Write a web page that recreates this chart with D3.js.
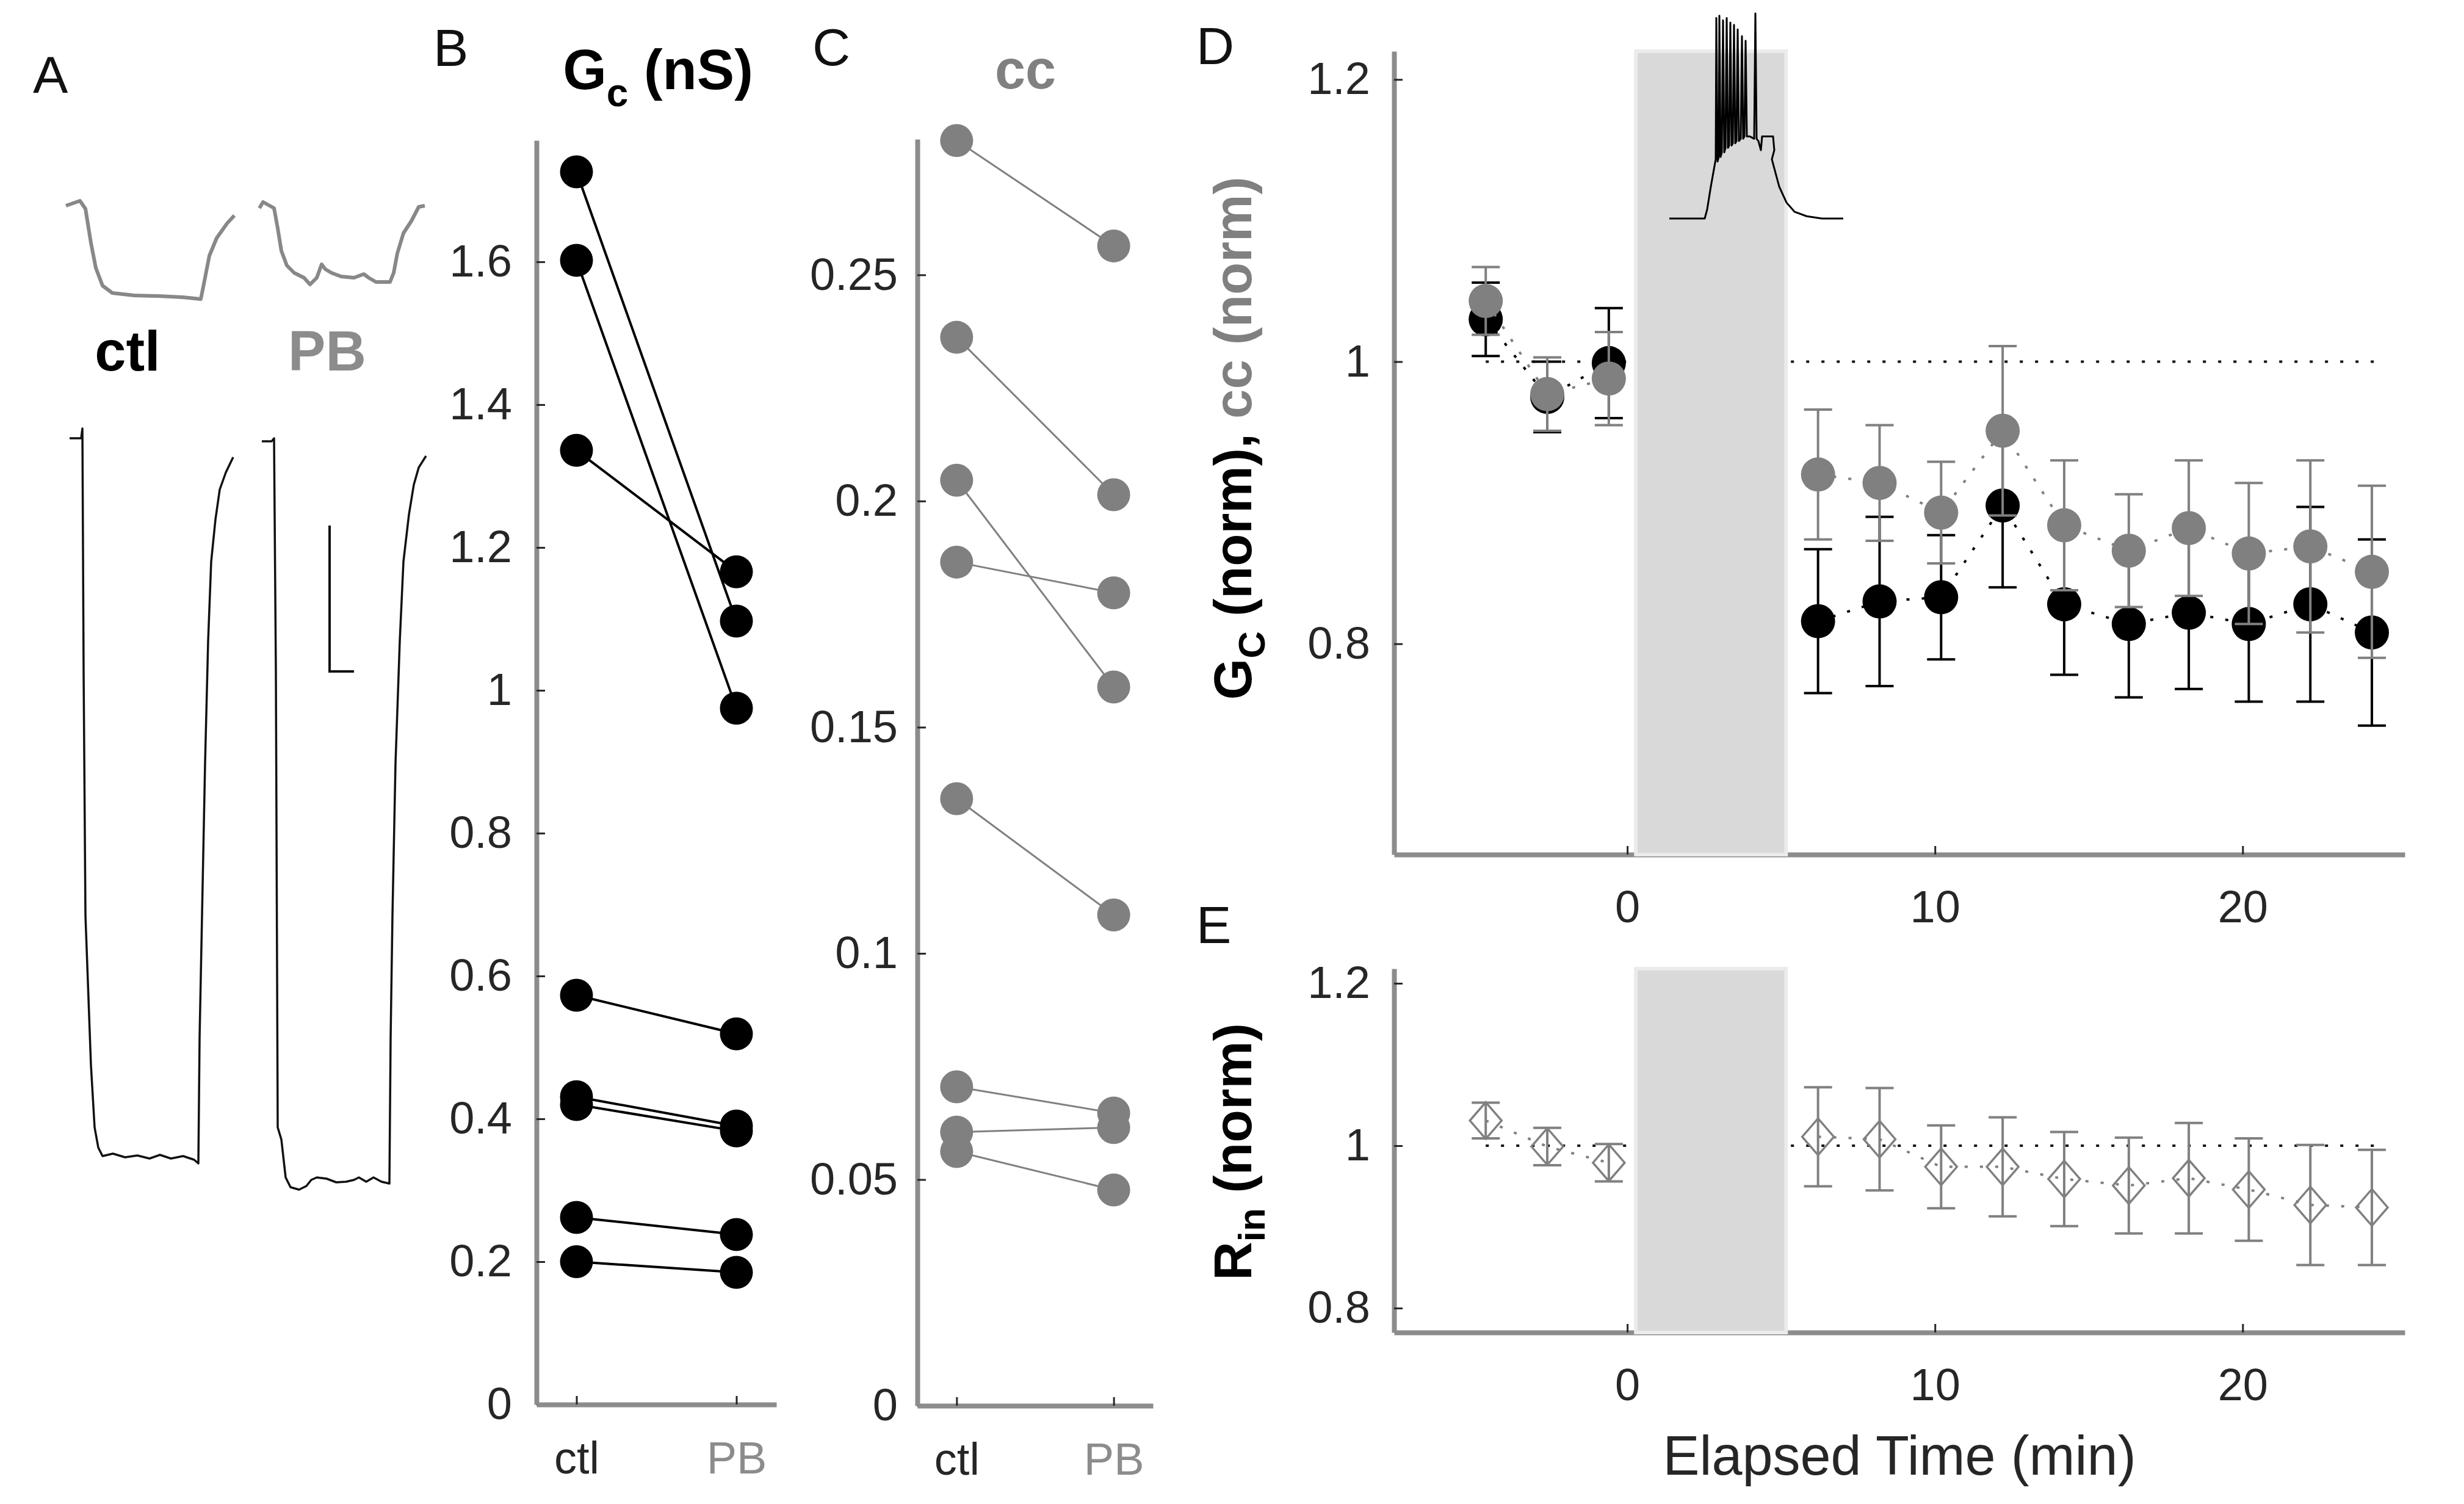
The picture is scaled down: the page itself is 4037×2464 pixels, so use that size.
<!DOCTYPE html>
<html>
<head>
<meta charset="utf-8">
<script src="https://cdn.jsdelivr.net/npm/d3@7"></script>
<style>
  body { margin: 0; background: #fff; }
  text { font-family: "Liberation Sans", Arial, sans-serif; }
</style>
</head>
<body>
<script>
const WIDTH = 4037;
const HEIGHT = 2464;

const INK = "#262626";
const GRAY = "#808080";
const AXIS = "#8c8c8c";
const SHADE = "#d9d9d9";

// ---------- data ----------
const conditions = ["ctl", "PB"];

// B: coupling conductance (nS), paired cells
const gcCtl = [1.726, 1.602, 1.336, 0.573, 0.431, 0.420, 0.262, 0.200];
const gcPB  = [1.097, 0.975, 1.166, 0.519, 0.390, 0.383, 0.238, 0.185];

// C: coupling coefficient, paired cells
const ccCtl = [0.2797, 0.2362, 0.2046, 0.1865, 0.1342, 0.0705, 0.0605, 0.0562];
const ccPB  = [0.2564, 0.2014, 0.1589, 0.1797, 0.1085, 0.0647, 0.0615, 0.0477];

// D/E: time course (min)
const timePre  = [-4.6, -2.6, -0.6];
const timePost = [6.2, 8.2, 10.2, 12.2, 14.2, 16.3, 18.25, 20.2, 22.2, 24.2];
const stimWindow = [0.28, 5.16];
const refLineSpan = [-4.6, 24.3];

const gcPre     = [1.030, 0.975, 0.999];
const gcPreErr  = [0.026, 0.025, 0.039];
const gcPost    = [0.816, 0.830, 0.833, 0.898, 0.828, 0.814, 0.822, 0.814, 0.828, 0.808];
const gcPostErr = [0.051, 0.060, 0.044, 0.058, 0.050, 0.052, 0.054, 0.055, 0.069, 0.066];

const ccPre     = [1.043, 0.977, 0.988];
const ccPreErr  = [0.024, 0.026, 0.033];
const ccPost    = [0.920, 0.914, 0.893, 0.951, 0.884, 0.866, 0.882, 0.864, 0.869, 0.851];
const ccPostErr = [0.046, 0.041, 0.036, 0.060, 0.046, 0.040, 0.048, 0.050, 0.061, 0.061];

const rinPre     = [1.031, 0.999, 0.979];
const rinPreErr  = [0.022, 0.023, 0.023];
const rinPost    = [1.011, 1.008, 0.974, 0.974, 0.959, 0.951, 0.960, 0.946, 0.927, 0.924];
const rinPostErr = [0.061, 0.063, 0.051, 0.061, 0.058, 0.059, 0.068, 0.063, 0.074, 0.071];

// A: example traces, [sample, a.u.]
const smallCtl = [[18,1663],[41,1671],[50,1658],[59,1602],[67,1561],[78,1532],[94,1520],[130,1516],
  [170,1515],[210,1513],[239,1510],[245,1540],[253,1581],[265,1610],[282,1634],[294,1647]];
const smallPB = [[335,1659],[341,1669],[359,1659],[365,1626],[371,1589],[380,1565],[392,1553],[408,1545],
  [418,1534],[429,1545],[437,1567],[443,1559],[453,1553],[469,1547],[490,1545],[506,1551],[514,1545],
  [526,1538],[549,1538],[555,1553],[561,1585],[571,1618],[584,1638],[596,1661],[606,1663]];
const bigCtl = [[24,1282],[43,1282],[45,1298],[47,900],[50,500],[59,255],[65,153],[71,120],[78,106],
  [95,110],[115,104],[135,107],[155,102],[172,108],[190,102],[210,106],[228,100],[235,94],[237,300],
  [241,500],[246,750],[251,950],[256,1080],[263,1149],[270,1198],[280,1226],[292,1251]];
const bigPB = [[339,1277],[355,1277],[359,1282],[362,900],[365,153],[371,133],[378,71],[386,55],[400,51],
  [412,57],[420,67],[429,71],[445,69],[461,63],[477,64],[490,67],[498,71],[510,64],[522,71],[535,64],
  [548,61],[550,300],[553,500],[558,750],[565,950],[571,1080],[580,1157],[588,1206],[596,1234],[608,1253]];
const scaleBar = [[450,1139],[450,900],[490,900]];

// D inset: stimulation response, [ms, mV]
const insetTrace = [[0,-70],[58,-70],[62,-66],[68,-56],[74,-47],[76,-44],[77,18],[79,-45],[81,-43],[82,19],
  [84,-43],[86,-41],[88,17],[90,-41],[92,-39],[94,18],[96,-39],[98,-38],[100,16],[102,-38],[104,-37],
  [106,15],[108,-37],[110,-36],[112,13],[114,-36],[117,-35],[119,10],[121,-35],[123,-34],[125,8],
  [127,-34],[132,-34],[139,-35],[141,20],[143,-35],[146,-36],[150,-40],[152,-34],[170,-34],[172,-40],
  [168,-44],[172,-48],[180,-56],[192,-63],[205,-67],[225,-69],[250,-70],[285,-70]];

// ---------- svg ----------
const svg = d3.select("body")
    .append("svg")
    .attr("width", WIDTH)
    .attr("height", HEIGHT)
    .attr("viewBox", `0 0 ${WIDTH} ${HEIGHT}`);

svg.append("rect").attr("width", WIDTH).attr("height", HEIGHT).attr("fill", "#fff");

const fmt = (d) => String(+d.toFixed(3));

function styleAxis(g, padding) {
    g.attr("font-size", 74).attr("font-family", '"Liberation Sans", Arial, sans-serif');
    g.select(".domain").attr("stroke", AXIS).attr("stroke-width", 8);
    g.selectAll(".tick line").attr("stroke", INK).attr("stroke-width", 3);
    g.selectAll(".tick text").attr("fill", INK);
}

function panelLetter(letter, x, y) {
    svg.append("text")
        .attr("x", x).attr("y", y)
        .attr("font-size", 86)
        .attr("fill", "#111")
        .text(letter);
}

// ---------- A ----------
const xA = d3.scaleLinear().domain([0, 640]).range([90, 730]);
const yA = d3.scaleLinear().domain([0, 1720]).range([2000, 280]);
const lineA = d3.line().x((d) => xA(d[0])).y((d) => yA(d[1]));

panelLetter("A", 54, 152);

[smallCtl, smallPB].forEach((tr) => {
    svg.append("path").attr("d", lineA(tr))
        .attr("fill", "none").attr("stroke", "#888").attr("stroke-width", 6)
        .attr("stroke-linejoin", "round");
});
[bigCtl, bigPB].forEach((tr) => {
    svg.append("path").attr("d", lineA(tr))
        .attr("fill", "none").attr("stroke", "#111").attr("stroke-width", 3.5)
        .attr("stroke-linejoin", "round");
});
svg.append("path").attr("d", lineA(scaleBar))
    .attr("fill", "none").attr("stroke", "#111").attr("stroke-width", 4);

svg.append("text").attr("x", 209).attr("y", 607).attr("text-anchor", "middle")
    .attr("font-size", 92).attr("font-weight", "bold").attr("fill", "#000").text("ctl");
svg.append("text").attr("x", 536).attr("y", 607).attr("text-anchor", "middle")
    .attr("font-size", 92).attr("font-weight", "bold").attr("fill", "#8c8c8c").text("PB");

// ---------- paired panels B, C ----------
function pairedPanel(opts) {
    const x = d3.scaleLinear().domain([0.75, 2.25]).range(opts.xRange);
    const y = d3.scaleLinear().domain(opts.yDomain).range(opts.yRange);
    const g = svg.append("g");

    const yAxis = g.append("g")
        .attr("transform", `translate(${opts.xRange[0]},0)`)
        .call(d3.axisLeft(y).tickValues(opts.ticks).tickFormat(fmt)
            .tickSizeInner(-14).tickSizeOuter(0).tickPadding(opts.pad));
    styleAxis(yAxis);

    const xAxis = g.append("g")
        .attr("transform", `translate(0,${opts.yRange[0]})`)
        .call(d3.axisBottom(x).tickValues([1, 2]).tickFormat((d) => conditions[d - 1])
            .tickSizeInner(-14).tickSizeOuter(0).tickPadding(60));
    styleAxis(xAxis);
    xAxis.selectAll(".tick text").attr("fill", (d) => d === 1 ? INK : "#8c8c8c");

    const pairs = opts.ctl.map((v, i) => [[1, v], [2, opts.pb[i]]]);
    const line = d3.line().x((d) => x(d[0])).y((d) => y(d[1]));

    g.selectAll("path.pair").data(pairs).join("path")
        .attr("class", "pair")
        .attr("d", line)
        .attr("fill", "none")
        .attr("stroke", opts.color)
        .attr("stroke-width", opts.lineWidth);

    g.selectAll("circle.pt").data(pairs.flat()).join("circle")
        .attr("class", "pt")
        .attr("cx", (d) => x(d[0]))
        .attr("cy", (d) => y(d[1]))
        .attr("r", 27)
        .attr("fill", opts.color);
}

panelLetter("B", 710, 108);
pairedPanel({
    xRange: [879, 1272], yRange: [2301, 230], yDomain: [0, 1.77],
    ticks: [0, 0.2, 0.4, 0.6, 0.8, 1, 1.2, 1.4, 1.6], pad: 40,
    ctl: gcCtl, pb: gcPB, color: "#000", lineWidth: 4,
});
const tB = svg.append("text").attr("x", 1078).attr("y", 146).attr("text-anchor", "middle")
    .attr("font-size", 92).attr("font-weight", "bold").attr("fill", "#000");
tB.append("tspan").text("G");
tB.append("tspan").attr("font-size", 64).attr("dy", 28).text("c");
tB.append("tspan").attr("dy", -28).text(" (nS)");

panelLetter("C", 1331, 107);
pairedPanel({
    xRange: [1503, 1889], yRange: [2303, 228], yDomain: [0, 0.28],
    ticks: [0, 0.05, 0.1, 0.15, 0.2, 0.25], pad: 32,
    ctl: ccCtl, pb: ccPB, color: GRAY, lineWidth: 3,
});
svg.append("text").attr("x", 1680).attr("y", 145).attr("text-anchor", "middle")
    .attr("font-size", 90).attr("font-weight", "bold").attr("fill", GRAY).text("cc");

// ---------- time course panels D, E ----------
const xT = d3.scaleLinear().domain([-7.58, 25.27]).range([2284, 3940]);
const yD = d3.scaleLinear().domain([0.6506, 1.22]).range([1400, 84]);
const yE = d3.scaleLinear().domain([0.77, 1.218]).range([2183, 1587]);

function timeAxes(y, ticks) {
    const [bottom, top] = y.range();
    const ya = svg.append("g").attr("transform", `translate(${xT.range()[0]},0)`)
        .call(d3.axisLeft(y).tickValues(ticks).tickFormat(fmt)
            .tickSizeInner(-14).tickSizeOuter(0).tickPadding(39));
    styleAxis(ya);
    const xa = svg.append("g").attr("transform", `translate(0,${bottom})`)
        .call(d3.axisBottom(xT).tickValues([0, 10, 20]).tickFormat(fmt)
            .tickSizeInner(-14).tickSizeOuter(0).tickPadding(58));
    styleAxis(xa);

    // reference line at 1
    svg.append("line")
        .attr("x1", xT(refLineSpan[0])).attr("x2", xT(refLineSpan[1]))
        .attr("y1", y(1)).attr("y2", y(1))
        .attr("stroke", "#111").attr("stroke-width", 4).attr("stroke-dasharray", "5 20");

    // stimulation window
    svg.append("rect")
        .attr("x", xT(stimWindow[0])).attr("y", top)
        .attr("width", xT(stimWindow[1]) - xT(stimWindow[0]))
        .attr("height", bottom - top)
        .attr("fill", SHADE).attr("stroke", "#ebebeb").attr("stroke-width", 6);
}

function series(y, pre, preErr, post, postErr, color, marker) {
    const g = svg.append("g");
    const line = d3.line().x((d) => xT(d.t)).y((d) => y(d.v));
    const segs = [
        timePre.map((t, i) => ({ t, v: pre[i], e: preErr[i] })),
        timePost.map((t, i) => ({ t, v: post[i], e: postErr[i] })),
    ];
    segs.forEach((seg) => {
        g.append("path").attr("d", line(seg))
            .attr("fill", "none").attr("stroke", color)
            .attr("stroke-width", 4).attr("stroke-dasharray", "5 20");
    });
    const pts = segs.flat();
    const cap = 23;
    const eb = g.selectAll("g.eb").data(pts).join("g").attr("class", "eb");
    eb.append("line")
        .attr("x1", (d) => xT(d.t)).attr("x2", (d) => xT(d.t))
        .attr("y1", (d) => y(d.v - d.e)).attr("y2", (d) => y(d.v + d.e));
    eb.append("line")
        .attr("x1", (d) => xT(d.t) - cap).attr("x2", (d) => xT(d.t) + cap)
        .attr("y1", (d) => y(d.v + d.e)).attr("y2", (d) => y(d.v + d.e));
    eb.append("line")
        .attr("x1", (d) => xT(d.t) - cap).attr("x2", (d) => xT(d.t) + cap)
        .attr("y1", (d) => y(d.v - d.e)).attr("y2", (d) => y(d.v - d.e));
    eb.selectAll("line").attr("stroke", color).attr("stroke-width", 4);

    if (marker === "circle") {
        g.selectAll("circle").data(pts).join("circle")
            .attr("cx", (d) => xT(d.t)).attr("cy", (d) => y(d.v))
            .attr("r", 28).attr("fill", color);
    } else {
        g.selectAll("path.dm").data(pts).join("path")
            .attr("class", "dm")
            .attr("d", (d) => {
                const cx = xT(d.t), cy = y(d.v);
                return `M${cx},${cy - 30}L${cx + 26},${cy}L${cx},${cy + 30}L${cx - 26},${cy}Z`;
            })
            .attr("fill", "none").attr("stroke", color).attr("stroke-width", 3.5);
    }
}

// D
panelLetter("D", 1960, 105);
timeAxes(yD, [0.8, 1, 1.2]);

const xIn = d3.scaleLinear().domain([0, 285]).range([2735, 3020]);
const yIn = d3.scaleLinear().domain([-70, 20]).range([358, 22]);
svg.append("path")
    .attr("d", d3.line().x((d) => xIn(d[0])).y((d) => yIn(d[1]))(insetTrace))
    .attr("fill", "none").attr("stroke", "#000").attr("stroke-width", 3)
    .attr("stroke-linejoin", "round");

series(yD, gcPre, gcPreErr, gcPost, gcPostErr, "#000", "circle");
series(yD, ccPre, ccPreErr, ccPost, ccPostErr, GRAY, "circle");

const labD = svg.append("text")
    .attr("transform", "translate(2050,718) rotate(-90)")
    .attr("text-anchor", "middle")
    .attr("font-size", 87).attr("font-weight", "bold").attr("fill", "#000");
labD.append("tspan").text("G");
labD.append("tspan").attr("font-size", 62).attr("dy", 22).text("C");
labD.append("tspan").attr("dy", -22).text(" (norm),");
labD.append("tspan").attr("fill", GRAY).text(" cc (norm)");

// E
panelLetter("E", 1960, 1545);
timeAxes(yE, [0.8, 1, 1.2]);
series(yE, rinPre, rinPreErr, rinPost, rinPostErr, GRAY, "diamond");

const labE = svg.append("text")
    .attr("transform", "translate(2050,1887) rotate(-90)")
    .attr("text-anchor", "middle")
    .attr("font-size", 88).attr("font-weight", "bold").attr("fill", "#000");
labE.append("tspan").text("R");
labE.append("tspan").attr("font-size", 62).attr("dy", 22).text("in");
labE.append("tspan").attr("dy", -22).text(" (norm)");

svg.append("text")
    .attr("x", (xT.range()[0] + xT.range()[1]) / 2).attr("y", 2416)
    .attr("text-anchor", "middle")
    .attr("font-size", 90).attr("fill", INK)
    .text("Elapsed Time (min)");
</script>
</body>
</html>
